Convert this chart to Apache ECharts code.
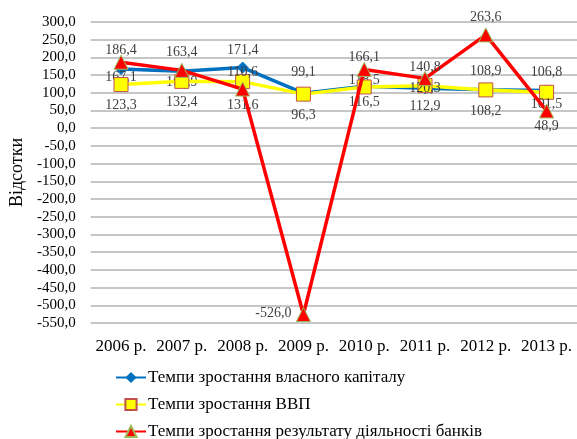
<!DOCTYPE html>
<html><head><meta charset="utf-8">
<script src="https://cdn.jsdelivr.net/npm/echarts@6/dist/echarts.min.js"></script>
<style>html,body{margin:0;padding:0;background:#fff}#c{width:577px;height:439px}</style>
</head><body><div id="c"></div>
<script>
const categories = ['2006 р.','2007 р.','2008 р.','2009 р.','2010 р.','2011 р.','2012 р.','2013 р.'];
const seriesNames = ['Темпи зростання власного капіталу','Темпи зростання ВВП','Темпи зростання результату діяльності банків'];
const capital = [167.1, 160.9, 171.4, 99.1, 118.5, 112.9, 108.9, 106.8];
const gdp = [123.3, 132.4, 131.6, 96.3, 116.5, 120.3, 108.2, 101.5];
const banks = [186.4, 163.4, 110.6, -526.0, 166.1, 140.8, 263.6, 48.9];
const yMin = -550, yMax = 300, yStep = 50;

// label offsets (styling only)
const offCapital = [[0,8],[0,11],[0,-17],[0,-21],[0,-6],[0,18],[0,-18],[0,-18]];
const offGdp = [[0,21],[0,21],[0,24],[0,21],[0,15],[0,3],[0,21],[0,12]];
const offBanks = [[0,-12],[0,-18],[0,-17],[-30,-1],[0,-12],[0,-11],[0,-18],[0,15]];

const fontFam = '"Liberation Serif","Times New Roman",serif';
function mk(vals, offs){
  return vals.map((v,i)=>({value:v, label:{offset:offs[i]}}));
}
const labelBase = {show:true, position:'inside', fontFamily:fontFam, fontSize:14, color:'#404040',
  formatter: p => p.value.toFixed(1).replace('.', ',')};

const legendTops = [369, 396, 423];
const legends = seriesNames.map((n,i)=>({
  left:115, top:legendTops[i], padding:0, itemWidth:30, itemHeight:14,
  textStyle:{fontFamily:fontFam, fontSize:17, color:'#000', padding:[0,0,0,-3]},
  data:[n]
}));

const chart = echarts.init(document.getElementById('c'), null, {renderer:'canvas'});
chart.setOption({
  animation:false,
  backgroundColor:'#fff',
  grid:{left:89, right:-6, top:22, bottom:116, containLabel:false},
  legend:legends,
  xAxis:{type:'category', data:categories, boundaryGap:true,
    axisLine:{show:false}, axisTick:{show:false},
    axisLabel:{fontFamily:fontFam, fontSize:17, color:'#000', margin:15, interval:0}},
  yAxis:{type:'value', min:yMin, max:yMax, interval:yStep,
    name:'Відсотки', nameLocation:'middle', nameGap:58, nameRotate:90,
    nameTextStyle:{fontFamily:fontFam, fontSize:18, color:'#000'},
    axisLine:{show:false}, axisTick:{show:false},
    axisLabel:{fontFamily:fontFam, fontSize:15, color:'#000', margin:15,
      formatter: v => v.toFixed(1).replace('.', ',')},
    splitLine:{lineStyle:{color:'#b3b3b3', width:1.5}}},
  series:[
    {name:seriesNames[0], type:'line', data:mk(capital, offCapital), z:3,
      symbol:'diamond', symbolSize:11,
      lineStyle:{color:'#0070C0', width:3.5},
      itemStyle:{color:'#0070C0', borderColor:'#0070C0'},
      label:labelBase},
    {name:seriesNames[1], type:'line', data:mk(gdp, offGdp), z:4,
      symbol:'rect', symbolSize:14,
      lineStyle:{color:'#FFFF00', width:3.5},
      itemStyle:{color:'#FFFF00', borderColor:'#C0504D', borderWidth:1},
      label:labelBase},
    {name:seriesNames[2], type:'line', data:mk(banks, offBanks), z:5,
      symbol:'triangle', symbolSize:14,
      lineStyle:{color:'#FF0000', width:3.5},
      itemStyle:{color:'#FF0000', borderColor:'#9BBB59', borderWidth:1},
      label:labelBase}
  ]
});
</script></body></html>
